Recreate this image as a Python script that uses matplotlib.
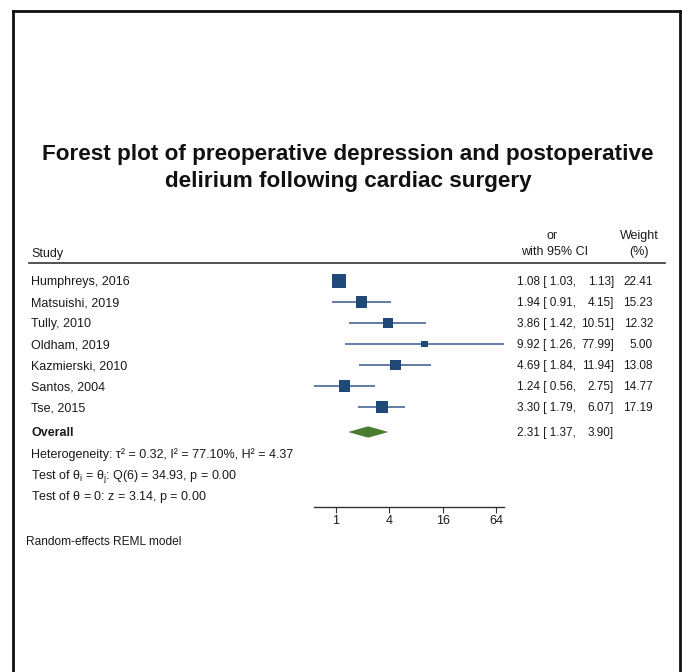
import numpy as np
import matplotlib
matplotlib.use("Agg")
import matplotlib.pyplot as plt
from matplotlib.transforms import blended_transform_factory
from matplotlib.lines import Line2D

plt.rcParams["font.family"] = ["Liberation Sans", "DejaVu Sans"]
plt.rcParams["mathtext.fontset"] = "custom"
plt.rcParams["mathtext.rm"] = "Liberation Sans"
plt.rcParams["mathtext.it"] = "Liberation Sans"

studies = ["Humphreys, 2016", "Matsuishi, 2019", "Tully, 2010", "Oldham, 2019",
           "Kazmierski, 2010", "Santos, 2004", "Tse, 2015"]
odds = [1.08, 1.94, 3.86, 9.92, 4.69, 1.24, 3.30]
lower = [1.03, 0.91, 1.42, 1.26, 1.84, 0.56, 1.79]
upper = [1.13, 4.15, 10.51, 77.99, 11.94, 2.75, 6.07]
weights = [22.41, 15.23, 12.32, 5.00, 13.08, 14.77, 17.19]
overall = (2.31, 1.37, 3.90)
stats_lines = [
    "Heterogeneity: τ² = 0.32, I² = 77.10%, H² = 4.37",
    r"Test of $\theta_i$ = $\theta_j$: Q(6) = 34.93, p = 0.00",
    r"Test of $\theta$ = 0: z = 3.14, p = 0.00",
]
xticks = [1, 4, 16, 64]

W, H = 682, 672
fig = plt.figure(figsize=(W / 100, H / 100), dpi=100)
fig.patch.set_facecolor("white")
FS = 9.0
NUM_FS = 8.5
ink = "#1a1a1a"


def fx(px):
    return px / W


def fy(py):
    return 1 - py / H


# forest panel: log2 x axis, rows in y
row_px = 21.0
y0_px = 281
ax_top, ax_bot = 270, 507
x_left, x_right = 300, 512
ax = fig.add_axes([fx(x_left), fy(ax_bot), (x_right - x_left) / W, (ax_bot - ax_top) / H])
ax.set_xscale("log", base=2)
px_per_unit = 160 / 6.0
ax.set_xlim(2 ** ((x_left - 336) / px_per_unit), 2 ** ((x_right - 336) / px_per_unit))
ax.set_ylim((ax_bot - y0_px) / row_px, (ax_top - y0_px) / row_px)
ax.patch.set_alpha(0)

navy = "#1f4a78"
rows = np.arange(len(studies))
for r, lo, hi in zip(rows, lower, upper):
    ax.plot([lo, hi], [r, r], color="#46679a", lw=1.2, solid_capstyle="butt")
side_pt = 14 * 0.72 * np.sqrt(np.array(weights) / max(weights))
ax.scatter(odds, rows, marker="s", s=side_pt ** 2, color=navy, linewidths=0, zorder=3)

ov_row = (432 - y0_px) / row_px
est, lo, hi = overall
ax.fill([lo, est, hi, est], [ov_row, ov_row - 0.27, ov_row, ov_row + 0.27],
        color="#4b7d2f", lw=0)

for s in ["top", "left", "right"]:
    ax.spines[s].set_visible(False)
ax.spines["bottom"].set_bounds(min(lower), max(upper))
ax.spines["bottom"].set_color("#333333")
ax.spines["bottom"].set_linewidth(1.0)
ax.set_yticks([])
ax.set_xticks(xticks)
ax.set_xticklabels([str(t) for t in xticks])
ax.xaxis.set_minor_locator(matplotlib.ticker.NullLocator())
ax.tick_params(axis="x", length=4, width=0.8, color="#333333", labelsize=FS,
               pad=2, labelcolor=ink)

# text columns: x in figure pixels, y in row units (baseline sits a bit below row centre)
tr = blended_transform_factory(fig.transFigure, ax.transData)
txt = dict(color=ink, va="baseline", transform=tr, clip_on=False)
base = 0.2

for r, name, o, l, u, w in zip(rows, studies, odds, lower, upper, weights):
    yb = r + base
    ax.text(fx(31), yb, name, ha="left", fontsize=FS, **txt)
    ax.text(fx(517), yb, f"{o:.2f} [{l:5.2f},", ha="left", fontsize=NUM_FS, **txt)
    ax.text(fx(614), yb, f"{u:.2f}]", ha="right", fontsize=NUM_FS, **txt)
    ax.text(fx(653), yb, f"{w:.2f}", ha="right", fontsize=NUM_FS, **txt)

yb = ov_row + base
ax.text(fx(31), yb, "Overall", ha="left", fontweight="bold", fontsize=FS, **txt)
ax.text(fx(517), yb, f"{est:.2f} [{lo:5.2f},", ha="left", fontsize=NUM_FS, **txt)
ax.text(fx(614), yb, f"{hi:.2f}]", ha="right", fontsize=NUM_FS, **txt)

for i, line in enumerate(stats_lines):
    fig.text(fx(31), fy(458 + 21 * i), line, ha="left", va="baseline",
             fontsize=FS, color=ink)

# headers
hdr = dict(fontsize=FS, color=ink, va="baseline")
fig.text(fx(31), fy(257), "Study", ha="left", **hdr)
fig.text(fx(552), fy(239), "or", ha="center", **hdr)
fig.text(fx(555), fy(255), "with 95% CI", ha="center", **hdr)
fig.text(fx(639), fy(239), "Weight", ha="center", **hdr)
fig.text(fx(639), fy(255), "(%)", ha="center", **hdr)
fig.add_artist(Line2D([fx(29), fx(665)], [fy(263), fy(263)], color="#333333", lw=1.2))

fig.text(fx(26), fy(545), "Random-effects REML model", ha="left", va="baseline",
         fontsize=8.6, color=ink)

fig.text(fx(348), fy(168),
         "Forest plot of preoperative depression and postoperative\n"
         "delirium following cardiac surgery",
         ha="center", va="center", fontsize=16.2, fontweight="bold",
         linespacing=1.33, color="#111111")

# outer frame, open at the bottom
frame = dict(color="#111111", lw=2.0)
fig.add_artist(Line2D([fx(13), fx(13)], [fy(11), 0], **frame))
fig.add_artist(Line2D([fx(680), fx(680)], [fy(11), 0], **frame))
fig.add_artist(Line2D([fx(13), fx(680)], [fy(11), fy(11)], **frame))

fig.savefig("out.png", dpi=100)
